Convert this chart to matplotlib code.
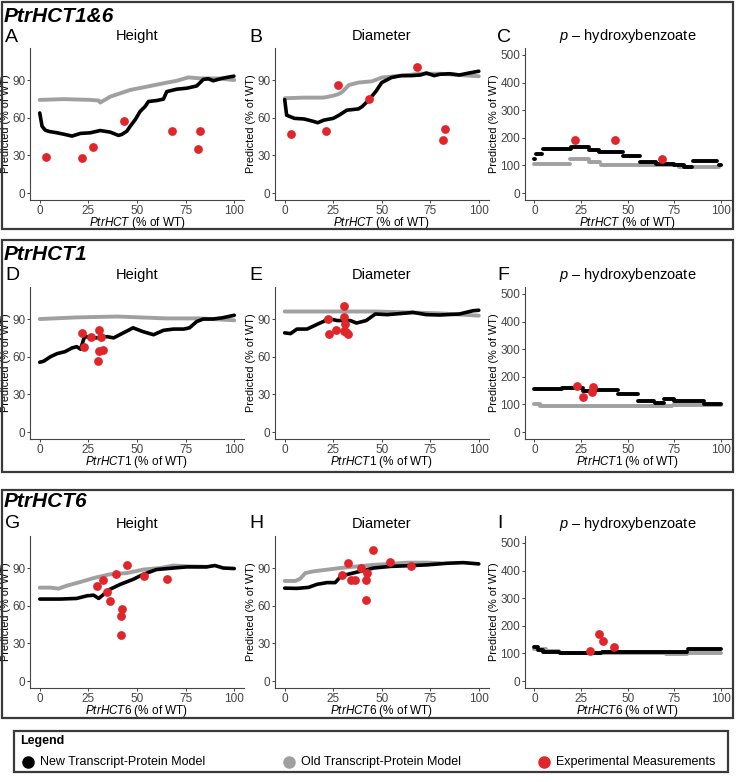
import numpy as np
import matplotlib
matplotlib.use('Agg')
import matplotlib.pyplot as plt
from matplotlib.patches import Rectangle
from matplotlib.lines import Line2D

plt.rcParams['font.family'] = ['Liberation Sans', 'DejaVu Sans']
plt.rcParams['mathtext.fontset'] = 'custom'
plt.rcParams['mathtext.it'] = 'Liberation Sans:italic'
plt.rcParams['mathtext.rm'] = 'Liberation Sans'

BLACK = '#000000'
GRAY = '#a0a0a0'
RED = '#e0262b'

# ---------------- data ----------------
# A  PtrHCT1&6 height
a_new_x = [0, 1.2, 2.9, 5, 8.9, 12, 16.6, 20.9, 26, 31.1, 36.3, 40.5, 42.2, 44.8, 46.5, 49.1, 51.6, 54.2,
           55.9, 60.2, 63.6, 65.3, 70.4, 75.6, 80.7, 84.1, 86.7, 89.2, 93.5, 99.8]
a_new_y = [63.8, 53.2, 50, 49, 48, 47, 45.4, 47.5, 48, 49.8, 48.5, 45.9, 46.7, 49.3, 53.2, 58.5, 65, 69,
           72.9, 73.7, 74.8, 80.8, 82.7, 83.5, 85.3, 90.5, 91, 89.4, 91.3, 93.1]
a_old_x = [0, 12.3, 26, 30.3, 31.1, 36.3, 46.5, 55, 63.6, 70.4, 76.4, 82.4, 91, 100]
a_old_y = [74.2, 74.8, 74.2, 73.7, 72.1, 76.8, 82.1, 84.7, 87.4, 89.4, 92.1, 91.3, 91.3, 90]
a_exp_x = [3.3, 21.5, 27.2, 43.3, 67.9, 81.2, 82.4]
a_exp_y = [28.8, 28.3, 36.7, 57.5, 49.3, 35.1, 49.8]

# B  PtrHCT1&6 diameter
b_new_x = [0, 1, 5, 10, 15, 17, 20, 25, 28, 32, 38, 40, 43, 47, 50, 55, 60, 65, 70, 73, 77, 80, 85, 90, 95, 100]
b_new_y = [74.4, 62, 59.5, 59, 57, 56, 58, 59.5, 62, 66, 67, 69, 73.6, 81, 88, 92, 93.5, 93.5, 94, 95.6,
           93.5, 94.6, 95, 94, 95.6, 97]
b_old_x = [0, 10, 20, 25, 28, 30, 33, 38, 45, 50, 60, 70, 80, 90, 100]
b_old_y = [75.5, 76, 76, 77.5, 79, 81, 86, 88, 89, 92, 93.5, 95, 95, 94, 93]
b_exp_x = [3.3, 21.4, 27.3, 43.4, 68.1, 81.3, 82.5]
b_exp_y = [47, 49.6, 85.8, 75, 100, 41.9, 51.2]

# C  PtrHCT1&6 p-hydroxybenzoate (step segments)
c_new_x0 = [0, 0.7, 4.7, 19.7, 29.3, 34.6, 47.4, 56.5, 65.3, 75, 80, 84.7, 98.8]
c_new_x1 = [0.3, 4.2, 19.5, 29.2, 34.5, 47.3, 56.4, 65.2, 74.9, 79.9, 84.6, 97.9, 100]
c_new_y = [122, 142, 160, 167, 156, 150, 134, 112, 105, 100, 95, 115, 103]
c_old_x0 = [0, 19.3, 29.3, 35.5, 56.5, 77.5, 98.8]
c_old_x1 = [19.2, 29.2, 35.4, 56.4, 77.4, 98.7, 100]
c_old_y = [104, 122, 111, 102, 100, 95, 100]
c_exp_x = [21.7, 43.3, 68.1]
c_exp_y = [193, 193, 124]

# D  PtrHCT1 height
d_new_x = [0, 2, 5.5, 9, 13, 16.6, 19, 21, 23, 29, 34.5, 38, 43, 48, 53, 58.5, 63.6, 68.7, 74, 77, 80.7,
           84, 89, 94, 100]
d_new_y = [55.6, 56.4, 60, 62.5, 64, 67, 68, 66, 76, 75, 76, 75, 79, 83, 80, 77.5, 81, 82, 82, 83, 88,
           90, 90, 91, 93]
d_old_x = [0, 19, 40, 65, 82, 100]
d_old_y = [90, 91.3, 92, 90.5, 90.5, 89]
d_exp_x = [21.7, 22.6, 26.3, 30.6, 31.5, 30.3, 32.5, 29.9]
d_exp_y = [78.7, 67.7, 75.6, 81.4, 75.6, 64.8, 65.6, 56.4]

# E  PtrHCT1 diameter
e_new_x = [0, 3, 6.3, 11.5, 16.6, 21, 23.5, 27, 33.8, 37, 42, 46.7, 52.7, 63, 66, 73, 80, 90, 97, 100]
e_new_y = [79, 78.4, 82, 82, 85.7, 88.8, 90, 88.8, 88.8, 86.8, 88.8, 94, 93.5, 94.8, 95.3, 93.5, 93.2,
           94, 96.6, 97]
e_old_x = [0, 46, 63, 80, 100]
e_old_y = [96, 96, 95.3, 94.5, 92.7]
e_exp_x = [22.1, 22.6, 26.4, 30.7, 30.7, 30.9, 30.4, 31.7, 32.4]
e_exp_y = [90, 77.7, 81, 100.5, 91.4, 85.7, 80.3, 79.7, 77.7]

# F  PtrHCT1 p-hydroxybenzoate
f_new_x0 = [0, 15, 26, 31, 45, 55.6, 64.4, 69.6, 75, 90.7]
f_new_x1 = [14.9, 25.9, 30.9, 44.9, 55.5, 64.3, 69.5, 74.9, 90.6, 100]
f_new_y = [155.6, 158, 148, 152, 136.6, 114, 104.5, 120, 114, 102]
f_old_x0 = [0, 3, 74]
f_old_x1 = [2.9, 73.9, 100]
f_old_y = [101, 96, 99]
f_exp_x = [22.6, 26.3, 30.7, 31.4]
f_exp_y = [167.5, 128, 146, 164]

# G  PtrHCT6 height
g_new_x = [0, 10.6, 19, 24.3, 27.7, 30.3, 32.8, 36, 41.4, 48, 53.3, 60, 68.7, 75.6, 85.8, 90, 94.4, 100]
g_new_y = [65.3, 65.3, 65.8, 67.9, 68.4, 65.8, 69, 73, 77, 81, 85, 88.8, 90, 90.9, 90.9, 92, 90, 89.6]
g_old_x = [0, 5.5, 9.7, 14, 20.9, 27.7, 36, 44.8, 53.3, 62, 68.7, 75.6, 85.8]
g_old_y = [74.4, 74.4, 73.6, 76, 78.9, 82, 85, 86, 88.8, 90, 92, 91.4, 91]
g_exp_x = [29.4, 32.3, 34.5, 36.2, 39.1, 45.1, 42.4, 41.9, 41.7, 53.8, 65.3]
g_exp_y = [75.7, 80.4, 71.3, 64, 84.9, 92.7, 57.4, 52.2, 37, 84, 81.5]

# H  PtrHCT6 diameter
h_new_x = [0, 6.3, 12.3, 16.6, 21.8, 26, 28.3, 32, 39, 45.8, 54.4, 63, 73.2, 83.5, 92, 100]
h_new_y = [74, 73.8, 74.6, 77, 78.4, 78.4, 82.3, 84.8, 87.4, 90, 91.3, 91.8, 92.5, 93.8, 94.3, 93.3]
h_old_x = [0, 5.5, 8, 10.6, 15, 21.8, 28.6, 37.2, 45.8, 54.4, 63, 73.2, 80]
h_old_y = [79.7, 79.7, 81.5, 86, 87.4, 88.7, 90, 91.3, 92.5, 93.3, 94.3, 94.3, 93.8]
h_exp_x = [29.5, 32.4, 34.3, 36.4, 39.3, 41.9, 42, 42.4, 45.3, 54, 65.2]
h_exp_y = [84.3, 94.3, 80.5, 80.5, 90, 64.8, 80.5, 86.1, 104, 95, 91.8]

# I  PtrHCT6 p-hydroxybenzoate
i_new_x0 = [0, 2, 4.7, 13.5, 36, 82]
i_new_x1 = [1.9, 4.6, 13.4, 35.9, 81.9, 100]
i_new_y = [122, 114, 105, 102, 104, 117]
i_old_x0 = [0, 6.1, 13.5, 70.5, 82]
i_old_x1 = [6, 13.4, 70.4, 81.9, 100]
i_old_y = [117, 108, 102, 98, 102]
i_exp_x = [29.6, 34.6, 36.7, 42.5]
i_exp_y = [108, 170, 146, 122]

row_names = ['PtrHCT1&6', 'PtrHCT1', 'PtrHCT6']
xlabels = [r'$\it{PtrHCT}$ (% of WT)', r'$\it{PtrHCT}$1 (% of WT)', r'$\it{PtrHCT}$6 (% of WT)']
col_titles = ['Height', 'Diameter', r'$\it{p}$ – hydroxybenzoate']
letters = ['A', 'B', 'C', 'D', 'E', 'F', 'G', 'H', 'I']
legend_labels = ['New Transcript-Protein Model', 'Old Transcript-Protein Model', 'Experimental Measurements']

# ---------------- layout (pixels) ----------------
W, H = 736, 782
fig = plt.figure(figsize=(W / 100, H / 100), dpi=100)

def px_axes(left, top, width, height):
    return fig.add_axes([left / W, 1 - (top + height) / H, width / W, height / H])

col_left = [30, 275, 525]
col_width = [214, 213.5, 205.5]
row_top = [48, 287, 536]
ax_h = 152

def style(ax, big, xlabel, title):
    ax.set_xlim(-5, 105)
    ax.set_xticks([0, 25, 50, 75, 100])
    if big:
        ax.set_ylim(-25, 525)
        ax.set_yticks([0, 100, 200, 300, 400, 500])
    else:
        ax.set_ylim(-5.5, 115.5)
        ax.set_yticks([0, 30, 60, 90])
    for s in ['top', 'right']:
        ax.spines[s].set_visible(False)
    for s in ['left', 'bottom']:
        ax.spines[s].set_color('#444444')
        ax.spines[s].set_linewidth(0.8)
    ax.tick_params(labelsize=8.5, colors='#444444', length=2.5, width=0.7, pad=0.8)
    ax.set_xlabel(xlabel, fontsize=8.5, labelpad=-1)
    ax.set_ylabel('Predicted (% of WT)', fontsize=7.8, labelpad=1)
    ax.set_title(title, fontsize=10.5, pad=6)

def line_panel(ax, nx, ny, ox, oy, ex, ey):
    ax.plot(ox, oy, color=GRAY, lw=2.8, solid_capstyle='round', solid_joinstyle='round')
    ax.plot(nx, ny, color=BLACK, lw=2.6, solid_capstyle='round', solid_joinstyle='round')
    ax.scatter(ex, ey, s=40, color=RED, zorder=5, linewidths=0)

def step_panel(ax, nx0, nx1, ny, ox0, ox1, oy, ex, ey):
    ax.hlines(oy, ox0, ox1, color=GRAY, lw=2.8, capstyle='round')
    ax.hlines(ny, nx0, nx1, color=BLACK, lw=2.8, capstyle='round')
    ax.scatter(ex, ey, s=40, color=RED, zorder=5, linewidths=0)

panels = [
    ('line', (a_new_x, a_new_y, a_old_x, a_old_y, a_exp_x, a_exp_y)),
    ('line', (b_new_x, b_new_y, b_old_x, b_old_y, b_exp_x, b_exp_y)),
    ('step', (c_new_x0, c_new_x1, c_new_y, c_old_x0, c_old_x1, c_old_y, c_exp_x, c_exp_y)),
    ('line', (d_new_x, d_new_y, d_old_x, d_old_y, d_exp_x, d_exp_y)),
    ('line', (e_new_x, e_new_y, e_old_x, e_old_y, e_exp_x, e_exp_y)),
    ('step', (f_new_x0, f_new_x1, f_new_y, f_old_x0, f_old_x1, f_old_y, f_exp_x, f_exp_y)),
    ('line', (g_new_x, g_new_y, g_old_x, g_old_y, g_exp_x, g_exp_y)),
    ('line', (h_new_x, h_new_y, h_old_x, h_old_y, h_exp_x, h_exp_y)),
    ('step', (i_new_x0, i_new_x1, i_new_y, i_old_x0, i_old_x1, i_old_y, i_exp_x, i_exp_y)),
]

for k, (kind, d) in enumerate(panels):
    r, c = k // 3, k % 3
    ax = px_axes(col_left[c], row_top[r], col_width[c], ax_h)
    if kind == 'line':
        line_panel(ax, *d)
    else:
        step_panel(ax, *d)
    style(ax, kind == 'step', xlabels[r], col_titles[c])

# boxes around each row and the legend
boxes = [(2, 2, 731, 227), (2, 240, 731, 232), (2, 490, 731, 228), (14, 731, 714, 41)]
for (bx, by, bw, bh) in boxes:
    fig.add_artist(Rectangle((bx / W, 1 - (by + bh) / H), bw / W, bh / H, transform=fig.transFigure,
                             fill=False, edgecolor='#3a3a3a', lw=1.6))

# row names and panel letters
row_name_y = [16, 254, 502]
letter_y = [37, 275, 523]
letter_x = [5, 249, 497]
for r in range(3):
    fig.text(4 / W, 1 - row_name_y[r] / H, row_names[r], fontsize=15, fontweight='bold', style='italic',
             va='center', ha='left')
    for c in range(3):
        fig.text(letter_x[c] / W, 1 - letter_y[r] / H, letters[3 * r + c], fontsize=14, va='center', ha='left')

# legend
fig.text(20 / W, 1 - 741 / H, 'Legend', fontsize=9, fontweight='bold', va='center', ha='left')
leg_colors = [BLACK, GRAY, RED]
leg_x = [28, 289, 544]
for lx, lc, lab in zip(leg_x, leg_colors, legend_labels):
    fig.add_artist(Line2D([lx / W], [1 - 762 / H], marker='o', markersize=8, color=lc, lw=0,
                          transform=fig.transFigure))
    fig.text((lx + 12) / W, 1 - 762 / H, lab, fontsize=9, va='center', ha='left')

fig.savefig('out.png', dpi=100)
